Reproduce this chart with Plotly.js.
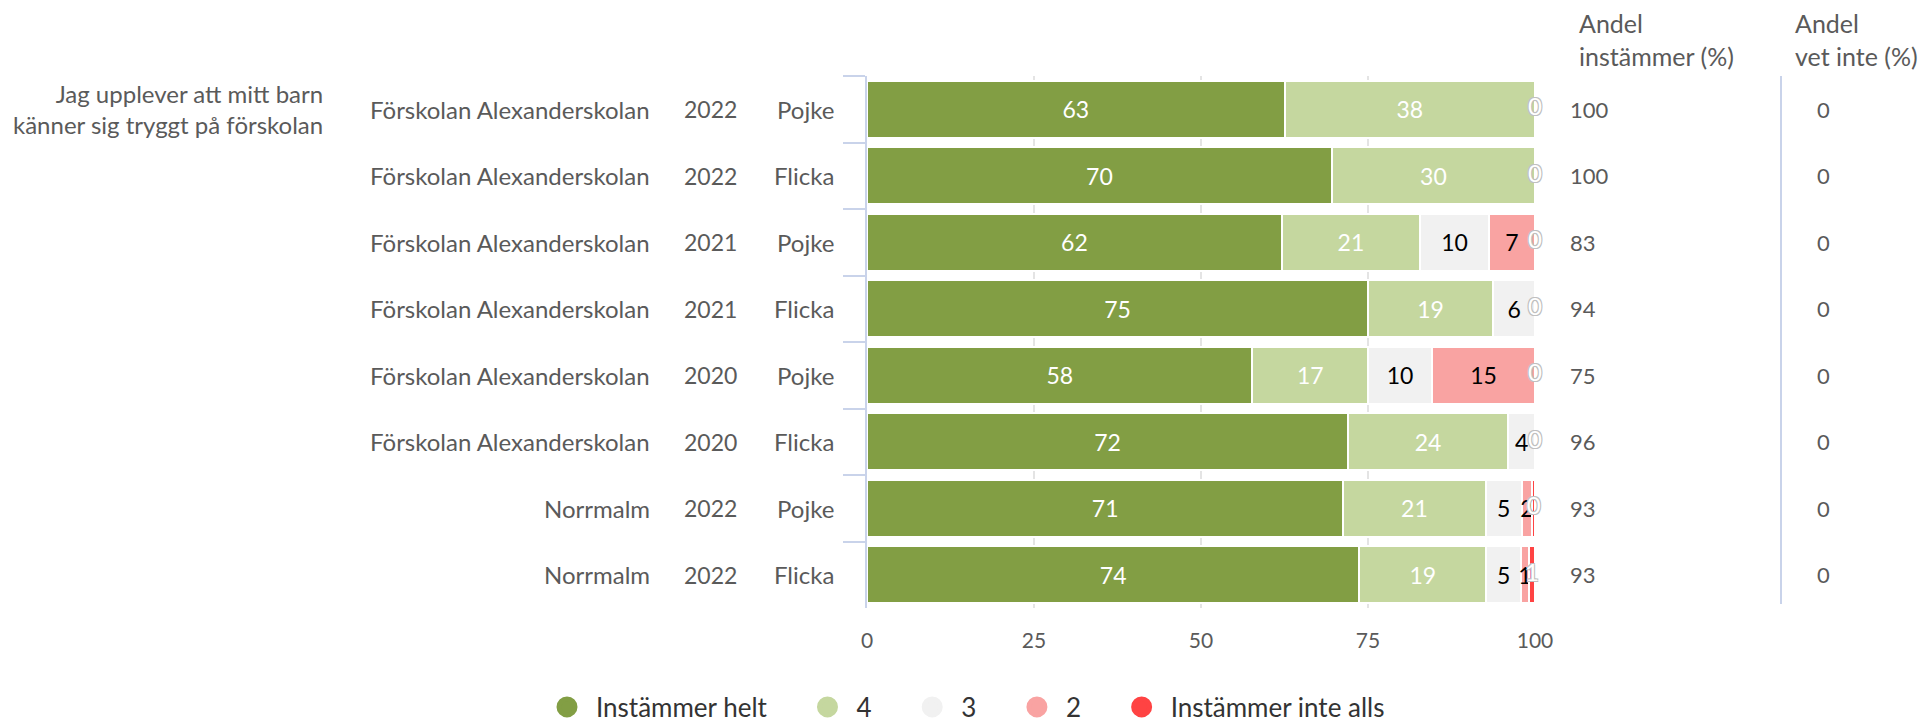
<!DOCTYPE html>
<html>
<head>
<meta charset="utf-8">
<script src="https://cdn.plot.ly/plotly-3.0.1.min.js"></script>
<style>html,body{margin:0;padding:0;background:#fff;}#chart{width:1925px;height:726px;}</style>
</head>
<body>
<div id="chart"></div>
<script>
const questionText = 'Jag upplever att mitt barn<br>känner sig tryggt på förskolan';
const schools = ['Förskolan Alexanderskolan','Förskolan Alexanderskolan','Förskolan Alexanderskolan','Förskolan Alexanderskolan','Förskolan Alexanderskolan','Förskolan Alexanderskolan','Norrmalm','Norrmalm'];
const years = ['2022','2022','2021','2021','2020','2020','2022','2022'];
const genders = ['Pojke','Flicka','Pojke','Flicka','Pojke','Flicka','Pojke','Flicka'];
const seriesNames = ['Instämmer helt','4','3','2','Instämmer inte alls'];
const helt = [62.5, 69.6, 62.1, 75, 57.7, 72, 71.3, 73.7];
const fyra = [37.5, 30.4, 20.7, 18.75, 17.3, 24, 21.3, 19.0];
const tre = [0, 0, 10.3, 6.25, 9.6, 4, 5.4, 5.2];
const tva = [0, 0, 6.9, 0, 15.4, 0, 1.6, 1.2];
const inteAlls = [0, 0, 0, 0, 0, 0, 0.4, 0.9];
const andelInstammer = [100, 100, 83, 94, 75, 96, 93, 93];
const andelVetInte = [0, 0, 0, 0, 0, 0, 0, 0];
const headerInstammer = 'Andel<br>instämmer (%)';
const headerVetInte = 'Andel<br>vet inte (%)';
const xTicks = [0, 25, 50, 75, 100];

const colors = ['#829e44', '#c5d79f', '#f1f1f1', '#f9a3a2', '#ff4343'];
const textColors = ['#ffffff', '#ffffff', '#000000', '#000000', '#ffffff'];
const FONT = 'Lato, "Open Sans", sans-serif';
const GREY = '#5a5a5a';

const rowKeys = schools.map((s, i) => s + '|' + years[i] + '|' + genders[i]);
const series = [helt, fyra, tre, tva, inteAlls];

const traces = [];
series.forEach((vals, k) => {
  const isRed = k === 4;
  traces.push({
    type: 'bar', orientation: 'h', name: seriesNames[k],
    y: rowKeys, x: vals,
    marker: {color: colors[k], line: {color: '#ffffff', width: 2}},
    text: isRed ? vals.map(() => '') : vals.map(v => v > 0 ? String(Math.round(v)) : ''),
    textposition: 'inside', insidetextanchor: 'middle', textangle: 0,
    constraintext: 'none',
    textfont: {family: FONT, size: 23, color: textColors[k]},
    showlegend: false, hoverinfo: 'x+name'
  });
});
// red segment labels (shown even for zero-width segments)
const redCenters = rowKeys.map((_, i) => helt[i] + fyra[i] + tre[i] + tva[i] + inteAlls[i] / 2);
traces.push({
  type: 'scatter', mode: 'text', y: rowKeys, x: redCenters,
  text: inteAlls.map(v => String(Math.round(v))),
  textposition: 'middle center', cliponaxis: false,
  textfont: {family: FONT, size: 24, color: '#ffffff',
    shadow: '-1px -1px 0 #c0c0c0, 1px -1px 0 #c0c0c0, -1px 1px 0 #c0c0c0, 1px 1px 0 #c0c0c0'},
  showlegend: false, hoverinfo: 'skip'
});
// legend entries with round symbols (trailing spaces widen the gap between entries)
const PAD = '\u00a0\u00a0\u00a0\u00a0';
seriesNames.forEach((n, k) => {
  traces.push({
    type: 'scatter', mode: 'markers', x: [null], y: [null],
    name: k < seriesNames.length - 1 ? n + PAD : n,
    marker: {color: colors[k], size: 16, symbol: 'circle', line: {color: colors[k], width: 5}},
    showlegend: true, hoverinfo: 'skip'
  });
});

const L = 867, R = 1535, T = 76, B = 608;
const W = R - L, H = B - T;
const px = v => (v - L) / W;
const py = v => (B - v) / H;

const lab = (size) => ({family: FONT, size: size, color: GREY});
const annotations = [];
annotations.push({xref: 'paper', yref: 'y', x: px(325), y: rowKeys[0], text: questionText,
  xanchor: 'right', yanchor: 'middle', align: 'right', showarrow: false, font: lab(24)});
rowKeys.forEach((k, i) => {
  annotations.push({xref: 'paper', yref: 'y', x: px(652), y: k, text: schools[i], xanchor: 'right', showarrow: false, font: lab(24)});
  annotations.push({xref: 'paper', yref: 'y', x: px(739), y: k, text: years[i], xanchor: 'right', showarrow: false, font: lab(23)});
  annotations.push({xref: 'paper', yref: 'y', x: px(836), y: k, text: genders[i], xanchor: 'right', showarrow: false, font: lab(24)});
  annotations.push({xref: 'paper', yref: 'y', x: px(1568), y: k, text: String(andelInstammer[i]), xanchor: 'left', showarrow: false, font: lab(22)});
  annotations.push({xref: 'paper', yref: 'y', x: px(1815), y: k, text: String(andelVetInte[i]), xanchor: 'left', showarrow: false, font: lab(22)});
});
annotations.push({xref: 'paper', yref: 'paper', x: px(1577), y: py(40), text: headerInstammer, xanchor: 'left', yanchor: 'middle', align: 'left', showarrow: false, font: lab(25)});
annotations.push({xref: 'paper', yref: 'paper', x: px(1793), y: py(40), text: headerVetInte, xanchor: 'left', yanchor: 'middle', align: 'left', showarrow: false, font: lab(25)});

const layout = {
  width: 1925, height: 726,
  margin: {l: L, r: 1925 - R, t: T, b: 726 - B, pad: 0, autoexpand: false},
  paper_bgcolor: '#ffffff', plot_bgcolor: '#ffffff',
  barmode: 'stack', bargap: 0.14,
  font: {family: FONT, size: 22, color: GREY},
  xaxis: {range: [0, 100], tickvals: xTicks, ticktext: xTicks.map(String),
    showgrid: true, gridcolor: '#e4e4e4', gridwidth: 2, zeroline: false, showline: false,
    ticks: 'outside', ticklen: 14, tickcolor: 'rgba(0,0,0,0)',
    tickfont: {family: FONT, size: 21, color: GREY}, fixedrange: true},
  yaxis: {type: 'category', autorange: 'reversed', showticklabels: false,
    showline: true, linecolor: '#c9d3ea', linewidth: 2,
    ticks: 'outside', tickson: 'boundaries', ticklen: 22, tickwidth: 2, tickcolor: '#c9d3ea',
    showgrid: false, zeroline: false, fixedrange: true},
  legend: {orientation: 'h', traceorder: 'normal', x: px(538), xanchor: 'left',
    y: py(707), yanchor: 'middle',
    itemwidth: 48,
    font: {family: FONT, size: 26, color: '#333333'}, bgcolor: 'rgba(0,0,0,0)'},
  shapes: [{type: 'line', xref: 'paper', yref: 'paper', x0: px(1781), x1: px(1781), y0: py(604), y1: py(76),
    line: {color: '#c9d3ea', width: 2}}],
  annotations: annotations,
  showlegend: true
};

Plotly.newPlot('chart', traces, layout, {displayModeBar: false, staticPlot: true});
</script>
</body>
</html>
